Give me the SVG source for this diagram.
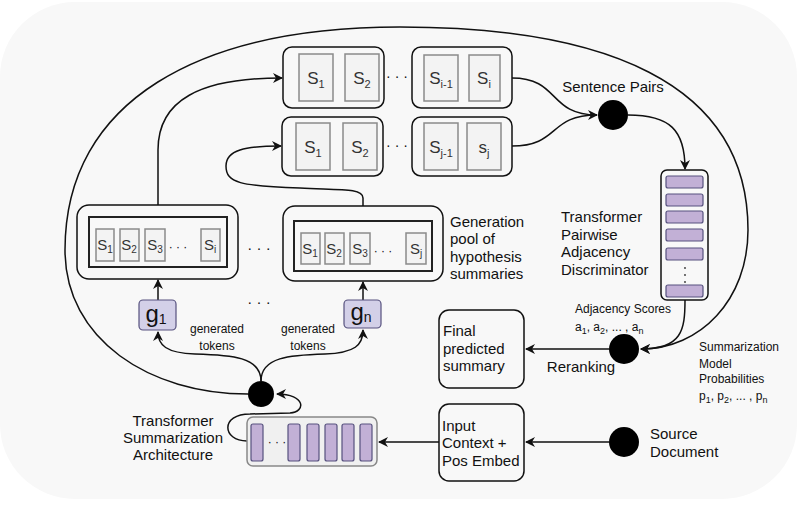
<svg xmlns="http://www.w3.org/2000/svg" width="800" height="525" viewBox="0 0 800 525">
<style>
text{font-family:"Liberation Sans",Arial,sans-serif;fill:#111}
.box{fill:none;stroke:#111;stroke-width:1.5}
.sb{fill:#f3f3f3;stroke:#8a8a8a;stroke-width:1.5}
.in{fill:none;stroke:#222;stroke-width:2}
.pb{fill:#c2b0d6;stroke:#56517e;stroke-width:1.2}
.gb{fill:#d3d0e8;stroke:#56517e;stroke-width:1.2}
.con{fill:none;stroke:#111;stroke-width:1.5}
.ar{marker-end:url(#arr)}
.big{font-size:15px}
.sm{font-size:12px}
.st{font-size:17px;fill:#333}
.ps{font-size:15px;fill:#333}
</style>
<defs>
<marker id="arr" viewBox="0 0 10 10" refX="9" refY="5" markerWidth="10" markerHeight="10" markerUnits="userSpaceOnUse" orient="auto">
<path d="M0,0 L10,5 L0,10 L3,5 z" fill="#111"/>
</marker>
</defs>
<rect x="0" y="2" width="797" height="497" rx="75" ry="75" fill="#f8f8f8"/>

<g id="connectors">
<path class="con ar" d="M248,394 C150,394 65,340 65,250 C65,100 200,27 400,27 C600,27 748,80 748,230 C748,300 700,349 641,349"/>
<path class="con ar" d="M685,300 C685,330 682,349 641,349"/>
<path class="con ar" d="M609,349 L526,349"/>
<path class="con ar" d="M609,442 L526,442"/>
<path class="con ar" d="M439,442 L379,442"/>
<path class="con ar" d="M247,441 C222,441 220,414 250,414 L290,413 C306,412 306,394 277,394"/>
<path class="con ar" d="M261,381 C261,357 232,355 195,354 C166,353 158,345 158,332"/>
<path class="con ar" d="M261,381 C261,357 290,355 325,354 C355,353 363,345 363,330"/>
<path class="con ar" d="M158,300 L158,280"/>
<path class="con ar" d="M363,300 L363,282"/>
<path class="con ar" d="M158,205 L158,150 C158,100 200,78 282,78"/>
<path class="con ar" d="M363,206 L363,198 C363,188 340,190 300,188 C240,186 226,183 226,166 C226,150 245,146 281,146"/>
<path class="con ar" d="M512,78 C560,78 548,115 597,115"/>
<path class="con" d="M512,146 C560,146 548,115 597,115"/>
<path class="con ar" d="M628,115 C670,115 685,130 685,169"/>
</g>

<g id="pair-i">
<rect class="box" x="283" y="47" width="101" height="61" rx="9"/>
<rect class="sb" x="299" y="54" width="34" height="47"/>
<rect class="sb" x="345" y="54" width="34" height="47"/>
<text class="st" x="316" y="84" text-anchor="middle">S<tspan font-size="11" dy="4">1</tspan></text>
<text class="st" x="362" y="84" text-anchor="middle">S<tspan font-size="11" dy="4">2</tspan></text>
<text x="397" y="81" text-anchor="middle" font-size="14">· · ·</text>
<rect class="box" x="412" y="47" width="100" height="61" rx="9"/>
<rect class="sb" x="424" y="55" width="34" height="46"/>
<rect class="sb" x="469" y="55" width="31" height="46"/>
<text class="st" x="441" y="84" text-anchor="middle">S<tspan font-size="11" dy="4">i-1</tspan></text>
<text class="st" x="484" y="84" text-anchor="middle">S<tspan font-size="11" dy="4">i</tspan></text>
</g>

<g id="pair-j">
<rect class="box" x="282" y="117" width="101" height="59" rx="9"/>
<rect class="sb" x="296" y="123" width="34" height="47"/>
<rect class="sb" x="343" y="123" width="34" height="47"/>
<text class="st" x="313" y="153" text-anchor="middle">S<tspan font-size="11" dy="4">1</tspan></text>
<text class="st" x="360" y="153" text-anchor="middle">S<tspan font-size="11" dy="4">2</tspan></text>
<text x="397" y="150" text-anchor="middle" font-size="14">· · ·</text>
<rect class="box" x="412" y="117" width="100" height="59" rx="9"/>
<rect class="sb" x="424" y="123" width="34" height="47"/>
<rect class="sb" x="467" y="123" width="34" height="47"/>
<text class="st" x="441" y="153" text-anchor="middle">S<tspan font-size="11" dy="4">j-1</tspan></text>
<text class="st" x="484" y="153" text-anchor="middle">s<tspan font-size="11" dy="4">j</tspan></text>
</g>

<g id="sentence-pairs">
<circle cx="613" cy="115" r="15" fill="#000"/>
<text class="big" x="613" y="92" text-anchor="middle">Sentence Pairs</text>
</g>

<g id="discriminator">
<rect class="box" x="661" y="170" width="47" height="130" rx="6" fill="#f8f8f8"/>
<rect class="pb" x="666" y="176" width="37" height="12" rx="2"/>
<rect class="pb" x="666" y="194" width="37" height="12" rx="2"/>
<rect class="pb" x="666" y="211" width="37" height="12" rx="2"/>
<rect class="pb" x="666" y="229" width="37" height="12" rx="2"/>
<rect class="pb" x="666" y="248" width="37" height="12" rx="2"/>
<circle cx="685" cy="268" r="0.9" fill="#333"/>
<circle cx="685" cy="275" r="0.9" fill="#333"/>
<circle cx="685" cy="282" r="0.9" fill="#333"/>
<rect class="pb" x="666" y="285" width="37" height="12" rx="2"/>
<text class="big" x="561" y="222">Transformer</text>
<text class="big" x="561" y="240">Pairwise</text>
<text class="big" x="561" y="257">Adjacency</text>
<text class="big" x="561" y="275">Discriminator</text>
</g>

<g id="pool-1">
<rect class="box" x="77" y="205" width="161" height="74" rx="12"/>
<rect class="in" x="89" y="217" width="138" height="50"/>
<rect class="sb" x="96" y="229" width="18" height="32"/>
<rect class="sb" x="120" y="229" width="19" height="32"/>
<rect class="sb" x="145" y="229" width="20" height="32"/>
<rect class="sb" x="201" y="229" width="19" height="32"/>
<text class="ps" x="105" y="250" text-anchor="middle">S<tspan font-size="10" dy="3">1</tspan></text>
<text class="ps" x="129" y="250" text-anchor="middle">S<tspan font-size="10" dy="3">2</tspan></text>
<text class="ps" x="155" y="250" text-anchor="middle">S<tspan font-size="10" dy="3">3</tspan></text>
<text x="178" y="251" text-anchor="middle" font-size="12">· · ·</text>
<text class="ps" x="210" y="250" text-anchor="middle">S<tspan font-size="10" dy="3">i</tspan></text>
</g>

<text x="259" y="253" text-anchor="middle" font-size="15">· · ·</text>

<g id="pool-n">
<rect class="box" x="283" y="206" width="160" height="75" rx="12"/>
<rect class="in" x="294" y="221" width="138" height="50"/>
<rect class="sb" x="301" y="233" width="19" height="31"/>
<rect class="sb" x="325" y="233" width="19" height="31"/>
<rect class="sb" x="350" y="233" width="20" height="31"/>
<rect class="sb" x="406" y="233" width="20" height="31"/>
<text class="ps" x="310" y="254" text-anchor="middle">S<tspan font-size="10" dy="3">1</tspan></text>
<text class="ps" x="334" y="254" text-anchor="middle">S<tspan font-size="10" dy="3">2</tspan></text>
<text class="ps" x="360" y="254" text-anchor="middle">S<tspan font-size="10" dy="3">3</tspan></text>
<text x="383" y="255" text-anchor="middle" font-size="12">· · ·</text>
<text class="ps" x="416" y="254" text-anchor="middle">S<tspan font-size="10" dy="3">j</tspan></text>
<text class="big" x="450" y="227">Generation</text>
<text class="big" x="450" y="244">pool of</text>
<text class="big" x="450" y="262">hypothesis</text>
<text class="big" x="450" y="279">summaries</text>
</g>

<g id="g1">
<rect class="gb" x="139" y="300" width="37" height="30" rx="4"/>
<text x="156" y="322" text-anchor="middle" font-size="24">g<tspan font-size="14" dy="2">1</tspan></text>
</g>
<text x="259" y="307" text-anchor="middle" font-size="15">· · ·</text>
<g id="gn">
<rect class="gb" x="344" y="300" width="37" height="28" rx="4"/>
<text x="361" y="320" text-anchor="middle" font-size="24">g<tspan font-size="14" dy="2">n</tspan></text>
</g>
<text class="sm" x="217" y="333" text-anchor="middle">generated</text>
<text class="sm" x="217" y="350" text-anchor="middle">tokens</text>
<text class="sm" x="308" y="333" text-anchor="middle">generated</text>
<text class="sm" x="308" y="350" text-anchor="middle">tokens</text>

<g id="gen-node">
<circle cx="261" cy="394" r="13" fill="#000"/>
</g>

<g id="transformer-summ">
<rect x="247" y="417" width="130" height="49" rx="6" fill="#f0f0f0" stroke="#888" stroke-width="1.5"/>
<rect class="pb" x="251" y="424" width="12" height="37" rx="2"/>
<text x="277" y="446" text-anchor="middle" font-size="12">· · ·</text>
<rect class="pb" x="288" y="424" width="12" height="37" rx="2"/>
<rect class="pb" x="307" y="424" width="12" height="37" rx="2"/>
<rect class="pb" x="325" y="424" width="12" height="37" rx="2"/>
<rect class="pb" x="342" y="424" width="12" height="37" rx="2"/>
<rect class="pb" x="360" y="424" width="12" height="37" rx="2"/>
<text class="big" x="173" y="426" text-anchor="middle">Transformer</text>
<text class="big" x="173" y="443" text-anchor="middle">Summarization</text>
<text class="big" x="173" y="460" text-anchor="middle">Architecture</text>
</g>

<g id="reranking">
<circle cx="624" cy="349" r="15" fill="#000"/>
<text class="big" x="581" y="372" text-anchor="middle">Reranking</text>
<text class="sm" x="575" y="313">Adjacency Scores</text>
<text class="sm" x="575" y="331">a<tspan font-size="9" dy="3">1</tspan><tspan dy="-3">, a</tspan><tspan font-size="9" dy="3">2</tspan><tspan dy="-3">, ... , a</tspan><tspan font-size="9" dy="3">n</tspan></text>
<text class="sm" x="699" y="351">Summarization</text>
<text class="sm" x="699" y="368">Model</text>
<text class="sm" x="699" y="383">Probabilities</text>
<text class="sm" x="699" y="400">p<tspan font-size="9" dy="3">1</tspan><tspan dy="-3">, p</tspan><tspan font-size="9" dy="3">2</tspan><tspan dy="-3">, ... , p</tspan><tspan font-size="9" dy="3">n</tspan></text>
</g>

<g id="final-summary">
<rect class="box" x="439" y="310" width="85" height="78" rx="10"/>
<text class="big" x="443" y="336">Final</text>
<text class="big" x="443" y="354">predicted</text>
<text class="big" x="443" y="371">summary</text>
</g>

<g id="input-context">
<rect class="box" x="439" y="404" width="85" height="77" rx="10"/>
<text class="big" x="442" y="431">Input</text>
<text class="big" x="442" y="448">Context +</text>
<text class="big" x="442" y="466">Pos Embed</text>
</g>

<g id="source-document">
<circle cx="624" cy="442" r="15" fill="#000"/>
<text class="big" x="650" y="439">Source</text>
<text class="big" x="650" y="457">Document</text>
</g>
</svg>
